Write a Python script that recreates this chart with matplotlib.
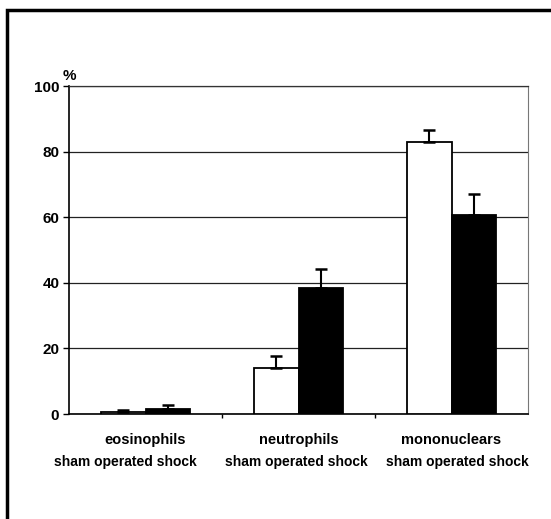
import matplotlib
matplotlib.use("Agg")
import matplotlib.pyplot as plt
import matplotlib.transforms as mtransforms
from matplotlib.patches import Rectangle
import numpy as np

categories = ['eosinophils', 'neutrophils', 'mononuclears']
group_labels = ['sham operated shock', 'sham operated shock', 'sham operated shock']
sham = [0.7, 14.0, 83.0]
sham_err = [0.5, 3.7, 3.6]
shock = [1.5, 38.4, 60.7]
shock_err = [1.2, 5.8, 6.4]
yticks = [0, 20, 40, 60, 80, 100]

plt.rcParams['font.family'] = ['Liberation Sans', 'DejaVu Sans']

fig = plt.figure(figsize=(5.51, 5.19), dpi=100)
ax = fig.add_axes([69/551, 1-414/519, 459/551, 328/519])

x = np.arange(len(categories))
w = 0.29
ax.bar(x - w/2, sham, w, color='white', edgecolor='black', linewidth=1.3, zorder=3)
ax.bar(x + w/2, shock, w, color='black', edgecolor='black', linewidth=1.3, zorder=3)
ax.errorbar(x - w/2, sham, yerr=[np.zeros(3), sham_err], fmt='none', ecolor='black',
            elinewidth=1.5, capsize=4, capthick=1.8, zorder=4)
ax.errorbar(x + w/2, shock, yerr=[np.zeros(3), shock_err], fmt='none', ecolor='black',
            elinewidth=1.5, capsize=4, capthick=1.8, zorder=4)

ax.set_xlim(-0.5, 2.5)
ax.set_ylim(0, 100)
ax.set_yticks(yticks)
ax.set_yticklabels([str(v) for v in yticks], fontsize=11, fontweight='bold')
ax.set_xticks([0.5, 1.5])
ax.set_xticklabels(['', ''])
ax.tick_params(axis='y', direction='out', length=4, width=1, pad=3)
ax.tick_params(axis='x', direction='out', length=3, width=1)
ax.yaxis.grid(True, color='#222222', linewidth=0.9, zorder=0)
ax.set_axisbelow(True)

for s in ['left', 'bottom']:
    ax.spines[s].set_linewidth(1.2)
    ax.spines[s].set_color('black')
ax.spines['top'].set_color('#333333')
ax.spines['top'].set_linewidth(0.9)
ax.spines['right'].set_color('#777777')
ax.spines['right'].set_linewidth(0.8)

ax.text(-6/459, 1.008, '%', transform=ax.transAxes, fontsize=11, fontweight='bold',
        ha='left', va='bottom')

# second-line offsets in pixels relative to category centre (layout only)
line2_offsets = [-20, -2, 6]
trans = mtransforms.blended_transform_factory(ax.transData, fig.transFigure)
for i, (c, g) in enumerate(zip(categories, group_labels)):
    ax.text(i, 1-440/519, c, transform=trans, ha='center', va='center',
            fontsize=10.5, fontweight='bold')
    t2 = trans + mtransforms.ScaledTranslation(line2_offsets[i]/100, 0, fig.dpi_scale_trans)
    ax.text(i, 1-462/519, g, transform=t2, ha='center', va='center',
            fontsize=10, fontweight='bold')

# outer frame
fig.patches.append(Rectangle((7/551, -0.05), 1.2, 1-10/519 + 0.05,
                             transform=fig.transFigure, fill=False,
                             edgecolor='black', linewidth=2.5))

fig.savefig('out.png', dpi=100)
